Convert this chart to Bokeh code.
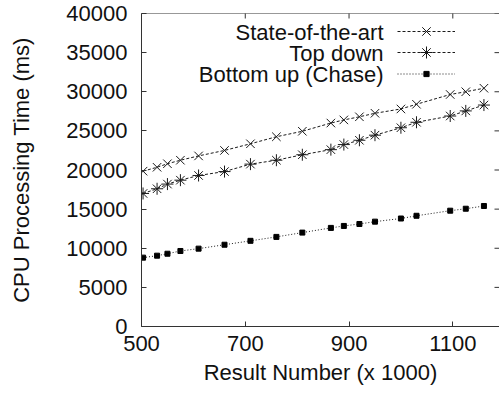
import math
from bokeh.plotting import figure
from bokeh.embed import file_html
from bokeh.resources import INLINE
from bokeh.models import (Range1d, FixedTicker, Legend, LegendItem,
                          Label, NumeralTickFormatter, Span)
from bokeh.core.properties import value

# ---- data ----
result_number = [503, 530, 550, 575, 610, 660, 710, 760, 810, 865, 890, 920,
                 950, 1000, 1030, 1095, 1125, 1160]
state_of_the_art = [19850, 20350, 20800, 21250, 21800, 22500, 23350, 24250,
                    24950, 26000, 26400, 26800, 27250, 27800, 28400, 29650,
                    30000, 30450]
top_down = [17000, 17600, 18200, 18700, 19300, 19800, 20750, 21250, 21950,
            22600, 23250, 23800, 24450, 25400, 26100, 26900, 27550, 28300]
bottom_up = [8800, 9050, 9300, 9650, 9950, 10450, 10950, 11450, 12000, 12600,
             12850, 13100, 13400, 13800, 14150, 14800, 15050, 15400]
series_names = ["State-of-the-art", "Top down", "Bottom up (Chase)"]
x_ticks = [500, 700, 900, 1100]
y_ticks = [0, 5000, 10000, 15000, 20000, 25000, 30000, 35000, 40000]
X_MIN, X_MAX = 500, 1190
Y_MIN, Y_MAX = 0, 40000

FONT = "Liberation Sans"
FS = "22px"
INK = "#111111"
AX = "#333333"

p = figure(width=499, height=401,
           x_range=Range1d(X_MIN, X_MAX), y_range=Range1d(Y_MIN, Y_MAX),
           output_backend="svg", toolbar_location=None,
           min_border_left=141, min_border_right=0,
           min_border_top=13, min_border_bottom=75)
p.grid.visible = False
p.outline_line_color = None
p.background_fill_color = "white"
p.border_fill_color = "white"

for ax in (p.xaxis[0], p.yaxis[0]):
    ax.axis_line_color = AX
    ax.axis_line_width = 1
    ax.major_tick_line_color = AX
    ax.major_tick_in = 5
    ax.major_tick_out = 0
    ax.minor_tick_line_color = None
    ax.major_label_text_font = FONT
    ax.major_label_text_font_size = FS
    ax.major_label_text_color = INK
    ax.axis_label_text_font = FONT
    ax.axis_label_text_font_size = FS
    ax.axis_label_text_font_style = "normal"
    ax.axis_label_text_color = INK

xa = p.xaxis[0]
ya = p.yaxis[0]
xa.ticker = FixedTicker(ticks=x_ticks)
ya.ticker = FixedTicker(ticks=y_ticks)
ya.formatter = NumeralTickFormatter(format="0")
xa.axis_label = "Result Number (x 1000)"
ya.axis_label = "CPU Processing Time (ms)"
xa.major_label_standoff = 9
ya.major_label_standoff = 14
xa.axis_label_standoff = 6
ya.axis_label_standoff = 29

# top border and mirrored (inward) ticks on top / right borders
p.add_layout(Span(location=Y_MAX, dimension="width", line_color=AX, line_width=1))
p.scatter(x_ticks, [Y_MAX] * len(x_ticks), marker="dash", angle=math.pi / 2,
          size=10, line_color=AX, line_width=1)
p.scatter([X_MAX] * len(y_ticks), y_ticks, marker="dash",
          size=10, line_color=AX, line_width=1)

# ---- series ----
c = "#1a1a1a"
l1 = p.line(result_number, state_of_the_art, line_color=c, line_width=1, line_dash="3 2")
m1 = p.scatter(result_number, state_of_the_art, marker="x", size=12, line_color=c, line_width=1)
l2 = p.line(result_number, top_down, line_color=c, line_width=1, line_dash="3 2")
m2 = p.scatter(result_number, top_down, marker="asterisk", size=12, line_color=c, line_width=1)
l3 = p.line(result_number, bottom_up, line_color=c, line_width=1, line_dash="1 2")
m3 = p.scatter(result_number, bottom_up, marker="square", size=5, line_color="black", fill_color="black")

def make_legend(renderers, loc, gh):
    lg = Legend(items=[LegendItem(label=value(" "), renderers=renderers)],
                location=loc, orientation="vertical")
    lg.margin = 0
    lg.padding = 0
    lg.spacing = 0
    lg.border_line_color = None
    lg.background_fill_alpha = 0
    lg.glyph_width = 58
    lg.glyph_height = gh
    lg.label_height = gh
    lg.label_width = 0
    lg.label_standoff = 0
    lg.label_text_font_size = "1px"
    return lg

# one single-row legend per series (sample drawn right of its label, gnuplot style)
p.add_layout(make_legend([l1, m1], (256, 280), 30), "center")
p.add_layout(make_legend([l2, m2], (256, 259), 30), "center")
p.add_layout(make_legend([l3, m3], (256, 246), 13), "center")

for i, name in enumerate(series_names):
    p.add_layout(Label(x=242, y=294.5 - 21 * i, x_units="screen", y_units="screen",
                       text=name, text_align="right", text_baseline="middle",
                       text_font=FONT, text_font_size=FS, text_color=INK))

open("out.html", "w").write(file_html(p, INLINE))
